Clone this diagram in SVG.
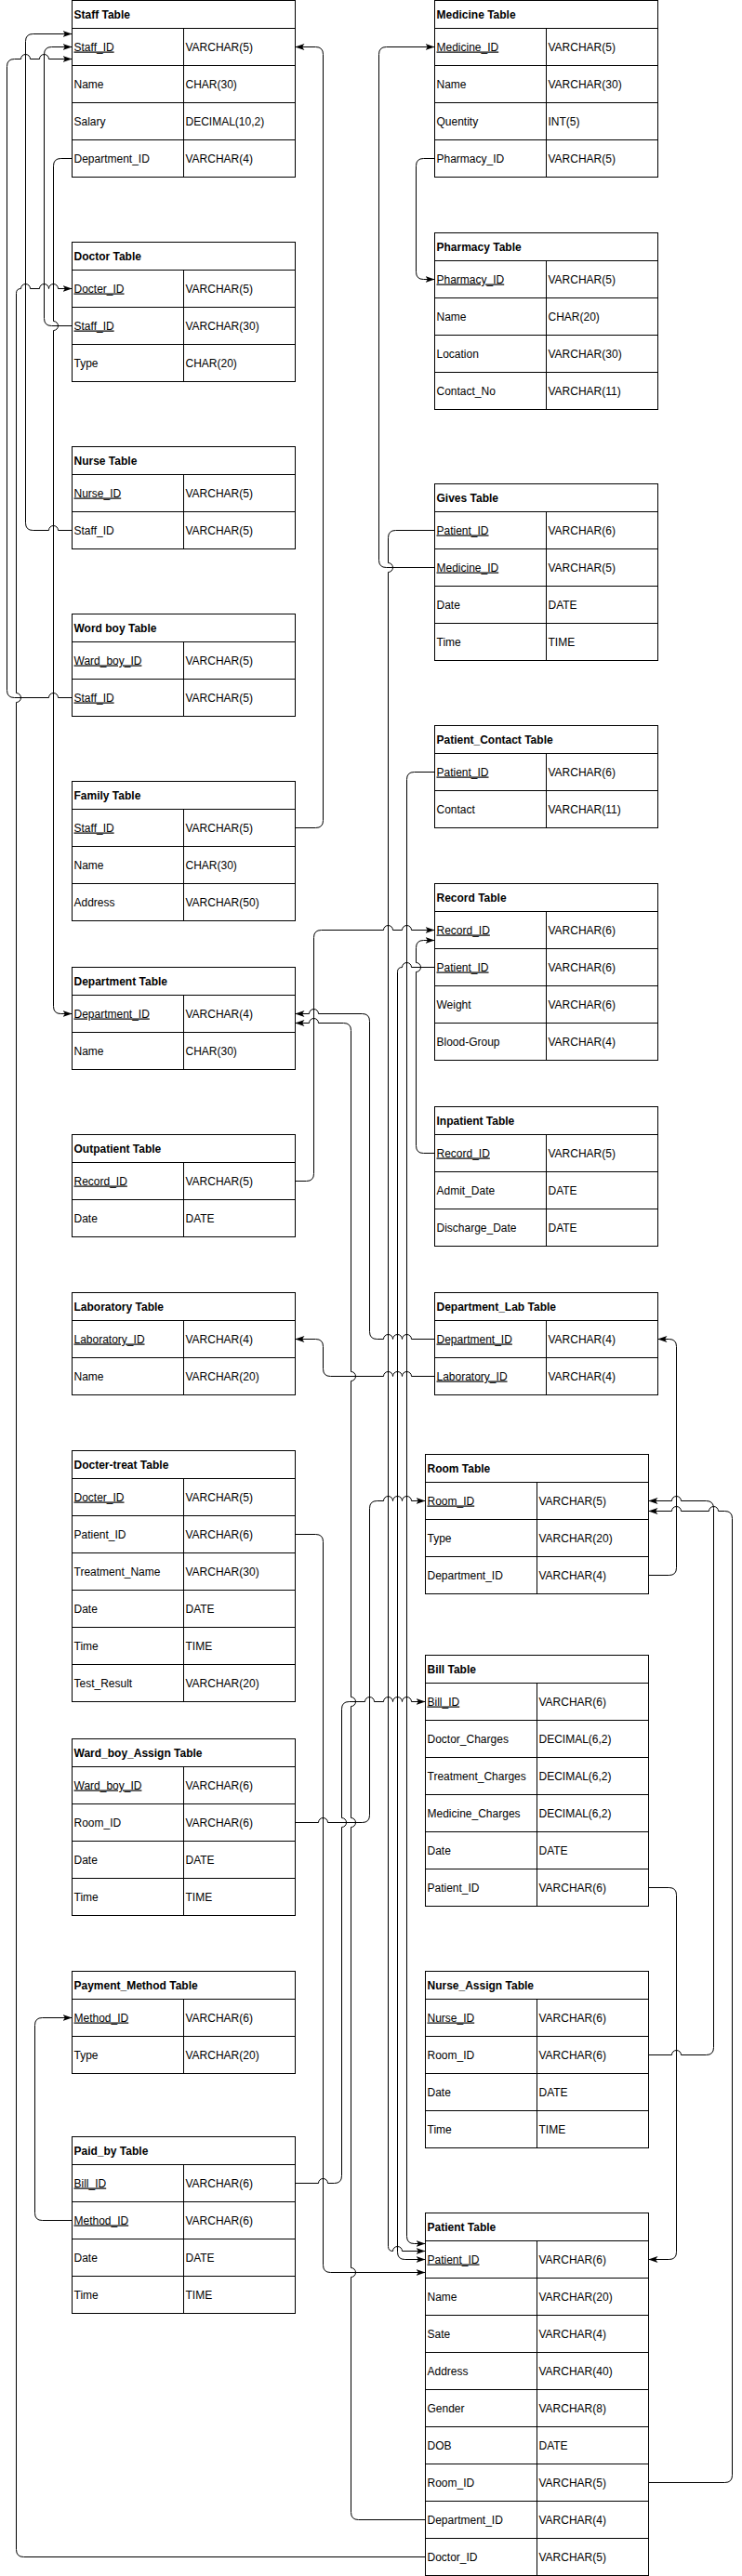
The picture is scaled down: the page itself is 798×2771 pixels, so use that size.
<svg xmlns="http://www.w3.org/2000/svg" width="798" height="2771" viewBox="0 0 798 2771">
<style>
text{font-family:"Liberation Sans",Arial,sans-serif;font-size:12px;fill:#000}
.h{font-weight:bold}
.k{text-decoration:underline}
.tbl rect{fill:#fff;stroke:#000;stroke-width:1}
.tbl path{fill:none;stroke:#000;stroke-width:1}
#connectors path{fill:none;stroke:#000;stroke-width:1;marker-end:url(#ar)}
</style>
<defs>
<marker id="ar" viewBox="0 0 10 8" refX="10" refY="4" markerWidth="10" markerHeight="8" markerUnits="userSpaceOnUse" orient="auto"><path d="M0,0.5 L10,4 L0,7.5 L2.5,4 Z" fill="#000"/></marker>
</defs>
<rect width="798" height="2771" fill="#fff"/>

<g id="staff-table" class="tbl" transform="translate(77.5,0.5)">
<rect width="240" height="190"/>
<path d="M0,30H240M0,70H240M0,110H240M0,150H240M120,30V190"/>
<text class="h" x="2" y="19">Staff Table</text>
<text class="k" x="2" y="54">Staff_ID</text><text x="122" y="54">VARCHAR(5)</text>
<text x="2" y="94">Name</text><text x="122" y="94">CHAR(30)</text>
<text x="2" y="134">Salary</text><text x="122" y="134">DECIMAL(10,2)</text>
<text x="2" y="174">Department_ID</text><text x="122" y="174">VARCHAR(4)</text>
</g>

<g id="doctor-table" class="tbl" transform="translate(77.5,260.5)">
<rect width="240" height="150"/>
<path d="M0,30H240M0,70H240M0,110H240M120,30V150"/>
<text class="h" x="2" y="19">Doctor Table</text>
<text class="k" x="2" y="54">Docter_ID</text><text x="122" y="54">VARCHAR(5)</text>
<text class="k" x="2" y="94">Staff_ID</text><text x="122" y="94">VARCHAR(30)</text>
<text x="2" y="134">Type</text><text x="122" y="134">CHAR(20)</text>
</g>

<g id="nurse-table" class="tbl" transform="translate(77.5,480.5)">
<rect width="240" height="110"/>
<path d="M0,30H240M0,70H240M120,30V110"/>
<text class="h" x="2" y="19">Nurse Table</text>
<text class="k" x="2" y="54">Nurse_ID</text><text x="122" y="54">VARCHAR(5)</text>
<text x="2" y="94">Staff_ID</text><text x="122" y="94">VARCHAR(5)</text>
</g>

<g id="wordboy-table" class="tbl" transform="translate(77.5,660.5)">
<rect width="240" height="110"/>
<path d="M0,30H240M0,70H240M120,30V110"/>
<text class="h" x="2" y="19">Word boy Table</text>
<text class="k" x="2" y="54">Ward_boy_ID</text><text x="122" y="54">VARCHAR(5)</text>
<text class="k" x="2" y="94">Staff_ID</text><text x="122" y="94">VARCHAR(5)</text>
</g>

<g id="family-table" class="tbl" transform="translate(77.5,840.5)">
<rect width="240" height="150"/>
<path d="M0,30H240M0,70H240M0,110H240M120,30V150"/>
<text class="h" x="2" y="19">Family Table</text>
<text class="k" x="2" y="54">Staff_ID</text><text x="122" y="54">VARCHAR(5)</text>
<text x="2" y="94">Name</text><text x="122" y="94">CHAR(30)</text>
<text x="2" y="134">Address</text><text x="122" y="134">VARCHAR(50)</text>
</g>

<g id="department-table" class="tbl" transform="translate(77.5,1040.5)">
<rect width="240" height="110"/>
<path d="M0,30H240M0,70H240M120,30V110"/>
<text class="h" x="2" y="19">Department Table</text>
<text class="k" x="2" y="54">Department_ID</text><text x="122" y="54">VARCHAR(4)</text>
<text x="2" y="94">Name</text><text x="122" y="94">CHAR(30)</text>
</g>

<g id="outpatient-table" class="tbl" transform="translate(77.5,1220.5)">
<rect width="240" height="110"/>
<path d="M0,30H240M0,70H240M120,30V110"/>
<text class="h" x="2" y="19">Outpatient Table</text>
<text class="k" x="2" y="54">Record_ID</text><text x="122" y="54">VARCHAR(5)</text>
<text x="2" y="94">Date</text><text x="122" y="94">DATE</text>
</g>

<g id="laboratory-table" class="tbl" transform="translate(77.5,1390.5)">
<rect width="240" height="110"/>
<path d="M0,30H240M0,70H240M120,30V110"/>
<text class="h" x="2" y="19">Laboratory Table</text>
<text class="k" x="2" y="54">Laboratory_ID</text><text x="122" y="54">VARCHAR(4)</text>
<text x="2" y="94">Name</text><text x="122" y="94">VARCHAR(20)</text>
</g>

<g id="doctertreat-table" class="tbl" transform="translate(77.5,1560.5)">
<rect width="240" height="270"/>
<path d="M0,30H240M0,70H240M0,110H240M0,150H240M0,190H240M0,230H240M120,30V270"/>
<text class="h" x="2" y="19">Docter-treat Table</text>
<text class="k" x="2" y="54">Docter_ID</text><text x="122" y="54">VARCHAR(5)</text>
<text x="2" y="94">Patient_ID</text><text x="122" y="94">VARCHAR(6)</text>
<text x="2" y="134">Treatment_Name</text><text x="122" y="134">VARCHAR(30)</text>
<text x="2" y="174">Date</text><text x="122" y="174">DATE</text>
<text x="2" y="214">Time</text><text x="122" y="214">TIME</text>
<text x="2" y="254">Test_Result</text><text x="122" y="254">VARCHAR(20)</text>
</g>

<g id="wardboyassign-table" class="tbl" transform="translate(77.5,1870.5)">
<rect width="240" height="190"/>
<path d="M0,30H240M0,70H240M0,110H240M0,150H240M120,30V190"/>
<text class="h" x="2" y="19">Ward_boy_Assign Table</text>
<text class="k" x="2" y="54">Ward_boy_ID</text><text x="122" y="54">VARCHAR(6)</text>
<text x="2" y="94">Room_ID</text><text x="122" y="94">VARCHAR(6)</text>
<text x="2" y="134">Date</text><text x="122" y="134">DATE</text>
<text x="2" y="174">Time</text><text x="122" y="174">TIME</text>
</g>

<g id="paymentmethod-table" class="tbl" transform="translate(77.5,2120.5)">
<rect width="240" height="110"/>
<path d="M0,30H240M0,70H240M120,30V110"/>
<text class="h" x="2" y="19">Payment_Method Table</text>
<text class="k" x="2" y="54">Method_ID</text><text x="122" y="54">VARCHAR(6)</text>
<text x="2" y="94">Type</text><text x="122" y="94">VARCHAR(20)</text>
</g>

<g id="paidby-table" class="tbl" transform="translate(77.5,2298.5)">
<rect width="240" height="190"/>
<path d="M0,30H240M0,70H240M0,110H240M0,150H240M120,30V190"/>
<text class="h" x="2" y="19">Paid_by Table</text>
<text class="k" x="2" y="54">Bill_ID</text><text x="122" y="54">VARCHAR(6)</text>
<text class="k" x="2" y="94">Method_ID</text><text x="122" y="94">VARCHAR(6)</text>
<text x="2" y="134">Date</text><text x="122" y="134">DATE</text>
<text x="2" y="174">Time</text><text x="122" y="174">TIME</text>
</g>

<g id="medicine-table" class="tbl" transform="translate(467.5,0.5)">
<rect width="240" height="190"/>
<path d="M0,30H240M0,70H240M0,110H240M0,150H240M120,30V190"/>
<text class="h" x="2" y="19">Medicine Table</text>
<text class="k" x="2" y="54">Medicine_ID</text><text x="122" y="54">VARCHAR(5)</text>
<text x="2" y="94">Name</text><text x="122" y="94">VARCHAR(30)</text>
<text x="2" y="134">Quentity</text><text x="122" y="134">INT(5)</text>
<text x="2" y="174">Pharmacy_ID</text><text x="122" y="174">VARCHAR(5)</text>
</g>

<g id="pharmacy-table" class="tbl" transform="translate(467.5,250.5)">
<rect width="240" height="190"/>
<path d="M0,30H240M0,70H240M0,110H240M0,150H240M120,30V190"/>
<text class="h" x="2" y="19">Pharmacy Table</text>
<text class="k" x="2" y="54">Pharmacy_ID</text><text x="122" y="54">VARCHAR(5)</text>
<text x="2" y="94">Name</text><text x="122" y="94">CHAR(20)</text>
<text x="2" y="134">Location</text><text x="122" y="134">VARCHAR(30)</text>
<text x="2" y="174">Contact_No</text><text x="122" y="174">VARCHAR(11)</text>
</g>

<g id="gives-table" class="tbl" transform="translate(467.5,520.5)">
<rect width="240" height="190"/>
<path d="M0,30H240M0,70H240M0,110H240M0,150H240M120,30V190"/>
<text class="h" x="2" y="19">Gives Table</text>
<text class="k" x="2" y="54">Patient_ID</text><text x="122" y="54">VARCHAR(6)</text>
<text class="k" x="2" y="94">Medicine_ID</text><text x="122" y="94">VARCHAR(5)</text>
<text x="2" y="134">Date</text><text x="122" y="134">DATE</text>
<text x="2" y="174">Time</text><text x="122" y="174">TIME</text>
</g>

<g id="patientcontact-table" class="tbl" transform="translate(467.5,780.5)">
<rect width="240" height="110"/>
<path d="M0,30H240M0,70H240M120,30V110"/>
<text class="h" x="2" y="19">Patient_Contact Table</text>
<text class="k" x="2" y="54">Patient_ID</text><text x="122" y="54">VARCHAR(6)</text>
<text x="2" y="94">Contact</text><text x="122" y="94">VARCHAR(11)</text>
</g>

<g id="record-table" class="tbl" transform="translate(467.5,950.5)">
<rect width="240" height="190"/>
<path d="M0,30H240M0,70H240M0,110H240M0,150H240M120,30V190"/>
<text class="h" x="2" y="19">Record Table</text>
<text class="k" x="2" y="54">Record_ID</text><text x="122" y="54">VARCHAR(6)</text>
<text class="k" x="2" y="94">Patient_ID</text><text x="122" y="94">VARCHAR(6)</text>
<text x="2" y="134">Weight</text><text x="122" y="134">VARCHAR(6)</text>
<text x="2" y="174">Blood-Group</text><text x="122" y="174">VARCHAR(4)</text>
</g>

<g id="inpatient-table" class="tbl" transform="translate(467.5,1190.5)">
<rect width="240" height="150"/>
<path d="M0,30H240M0,70H240M0,110H240M120,30V150"/>
<text class="h" x="2" y="19">Inpatient Table</text>
<text class="k" x="2" y="54">Record_ID</text><text x="122" y="54">VARCHAR(5)</text>
<text x="2" y="94">Admit_Date</text><text x="122" y="94">DATE</text>
<text x="2" y="134">Discharge_Date</text><text x="122" y="134">DATE</text>
</g>

<g id="deptlab-table" class="tbl" transform="translate(467.5,1390.5)">
<rect width="240" height="110"/>
<path d="M0,30H240M0,70H240M120,30V110"/>
<text class="h" x="2" y="19">Department_Lab Table</text>
<text class="k" x="2" y="54">Department_ID</text><text x="122" y="54">VARCHAR(4)</text>
<text class="k" x="2" y="94">Laboratory_ID</text><text x="122" y="94">VARCHAR(4)</text>
</g>

<g id="room-table" class="tbl" transform="translate(457.5,1564.5)">
<rect width="240" height="150"/>
<path d="M0,30H240M0,70H240M0,110H240M120,30V150"/>
<text class="h" x="2" y="19">Room Table</text>
<text class="k" x="2" y="54">Room_ID</text><text x="122" y="54">VARCHAR(5)</text>
<text x="2" y="94">Type</text><text x="122" y="94">VARCHAR(20)</text>
<text x="2" y="134">Department_ID</text><text x="122" y="134">VARCHAR(4)</text>
</g>

<g id="bill-table" class="tbl" transform="translate(457.5,1780.5)">
<rect width="240" height="270"/>
<path d="M0,30H240M0,70H240M0,110H240M0,150H240M0,190H240M0,230H240M120,30V270"/>
<text class="h" x="2" y="19">Bill Table</text>
<text class="k" x="2" y="54">Bill_ID</text><text x="122" y="54">VARCHAR(6)</text>
<text x="2" y="94">Doctor_Charges</text><text x="122" y="94">DECIMAL(6,2)</text>
<text x="2" y="134">Treatment_Charges</text><text x="122" y="134">DECIMAL(6,2)</text>
<text x="2" y="174">Medicine_Charges</text><text x="122" y="174">DECIMAL(6,2)</text>
<text x="2" y="214">Date</text><text x="122" y="214">DATE</text>
<text x="2" y="254">Patient_ID</text><text x="122" y="254">VARCHAR(6)</text>
</g>

<g id="nurseassign-table" class="tbl" transform="translate(457.5,2120.5)">
<rect width="240" height="190"/>
<path d="M0,30H240M0,70H240M0,110H240M0,150H240M120,30V190"/>
<text class="h" x="2" y="19">Nurse_Assign Table</text>
<text class="k" x="2" y="54">Nurse_ID</text><text x="122" y="54">VARCHAR(6)</text>
<text x="2" y="94">Room_ID</text><text x="122" y="94">VARCHAR(6)</text>
<text x="2" y="134">Date</text><text x="122" y="134">DATE</text>
<text x="2" y="174">Time</text><text x="122" y="174">TIME</text>
</g>

<g id="patient-table" class="tbl" transform="translate(457.5,2380.5)">
<rect width="240" height="390"/>
<path d="M0,30H240M0,70H240M0,110H240M0,150H240M0,190H240M0,230H240M0,270H240M0,310H240M0,350H240M120,30V390"/>
<text class="h" x="2" y="19">Patient Table</text>
<text class="k" x="2" y="54">Patient_ID</text><text x="122" y="54">VARCHAR(6)</text>
<text x="2" y="94">Name</text><text x="122" y="94">VARCHAR(20)</text>
<text x="2" y="134">Sate</text><text x="122" y="134">VARCHAR(4)</text>
<text x="2" y="174">Address</text><text x="122" y="174">VARCHAR(40)</text>
<text x="2" y="214">Gender</text><text x="122" y="214">VARCHAR(8)</text>
<text x="2" y="254">DOB</text><text x="122" y="254">DATE</text>
<text x="2" y="294">Room_ID</text><text x="122" y="294">VARCHAR(5)</text>
<text x="2" y="334">Department_ID</text><text x="122" y="334">VARCHAR(4)</text>
<text x="2" y="374">Doctor_ID</text><text x="122" y="374">VARCHAR(5)</text>
</g>

<g id="connectors">
<path d="M77.5,570.5 H62.5 A5,5 0 0 0 52.5,570.5 H35.5 Q27.5,570.5 27.5,562.5 V44.5 Q27.5,36.5 35.5,36.5 H77.5"/>
<path d="M77.5,350.5 H55.5 Q47.5,350.5 47.5,342.5 V58.5 Q47.5,50.5 55.5,50.5 H77.5"/>
<path d="M77.5,750.5 H62.5 A5,5 0 0 0 52.5,750.5 H15.5 Q7.5,750.5 7.5,742.5 V71.5 Q7.5,63.5 15.5,63.5 H22.5 A5,5 0 0 1 32.5,63.5 H42.5 A5,5 0 0 1 52.5,63.5 H77.5"/>
<path d="M457.5,2750.5 H25.5 Q17.5,2750.5 17.5,2742.5 V755.5 A5,5 0 0 0 17.5,745.5 V315.5 Q17.5,310.5 22.5,310.5 A5,5 0 0 1 32.5,310.5 H42.5 A5,5 0 0 1 52.5,310.5 A5,5 0 0 1 62.5,310.5 H77.5"/>
<path d="M77.5,170.5 H65.5 Q57.5,170.5 57.5,178.5 V345.5 A5,5 0 0 1 57.5,355.5 V1082.5 Q57.5,1090.5 65.5,1090.5 H77.5"/>
<path d="M317.5,890.5 H339.5 Q347.5,890.5 347.5,882.5 V58.5 Q347.5,50.5 339.5,50.5 H317.5"/>
<path d="M467.5,610.5 H415.5 Q407.5,610.5 407.5,602.5 V58.5 Q407.5,50.5 415.5,50.5 H467.5"/>
<path d="M467.5,170.5 H455.5 Q447.5,170.5 447.5,178.5 V292.5 Q447.5,300.5 455.5,300.5 H467.5"/>
<path d="M467.5,570.5 H425.5 Q417.5,570.5 417.5,578.5 V605.5 A5,5 0 0 1 417.5,615.5 V2416.5 Q417.5,2421.5 422.5,2421.5 A5,5 0 0 1 432.5,2421.5 H457.5"/>
<path d="M467.5,830.5 H445.5 Q437.5,830.5 437.5,838.5 V2405.5 Q437.5,2413.5 445.5,2413.5 H457.5"/>
<path d="M467.5,1040.5 H442.5 A5,5 0 0 0 432.5,1040.5 Q427.5,1040.5 427.5,1045.5 V2422.5 Q427.5,2430.5 435.5,2430.5 H457.5"/>
<path d="M317.5,1270.5 H329.5 Q337.5,1270.5 337.5,1262.5 V1008.5 Q337.5,1000.5 345.5,1000.5 H412.5 A5,5 0 0 1 422.5,1000.5 H432.5 A5,5 0 0 1 442.5,1000.5 H467.5"/>
<path d="M467.5,1240.5 H455.5 Q447.5,1240.5 447.5,1232.5 V1045.5 A5,5 0 0 0 447.5,1035.5 V1019.5 Q447.5,1011.5 455.5,1011.5 H467.5"/>
<path d="M467.5,1440.5 H442.5 A5,5 0 0 0 432.5,1440.5 A5,5 0 0 0 422.5,1440.5 A5,5 0 0 0 412.5,1440.5 H405.5 Q397.5,1440.5 397.5,1432.5 V1098.5 Q397.5,1090.5 389.5,1090.5 H342.5 A5,5 0 0 0 332.5,1090.5 H317.5"/>
<path d="M457.5,2710.5 H385.5 Q377.5,2710.5 377.5,2702.5 V2449.5 A5,5 0 0 0 377.5,2439.5 V1965.5 A5,5 0 0 0 377.5,1955.5 V1835.5 A5,5 0 0 0 377.5,1825.5 V1485.5 A5,5 0 0 0 377.5,1475.5 V1108.5 Q377.5,1100.5 369.5,1100.5 H342.5 A5,5 0 0 0 332.5,1100.5 H317.5"/>
<path d="M467.5,1480.5 H442.5 A5,5 0 0 0 432.5,1480.5 A5,5 0 0 0 422.5,1480.5 A5,5 0 0 0 412.5,1480.5 H355.5 Q347.5,1480.5 347.5,1472.5 V1448.5 Q347.5,1440.5 339.5,1440.5 H317.5"/>
<path d="M317.5,1960.5 H342.5 A5,5 0 0 1 352.5,1960.5 H389.5 Q397.5,1960.5 397.5,1952.5 V1622.5 Q397.5,1614.5 405.5,1614.5 H412.5 A5,5 0 0 1 422.5,1614.5 A5,5 0 0 1 432.5,1614.5 A5,5 0 0 1 442.5,1614.5 H457.5"/>
<path d="M317.5,2348.5 H342.5 A5,5 0 0 1 352.5,2348.5 H359.5 Q367.5,2348.5 367.5,2340.5 V1965.5 A5,5 0 0 0 367.5,1955.5 V1838.5 Q367.5,1830.5 375.5,1830.5 H392.5 A5,5 0 0 1 402.5,1830.5 H412.5 A5,5 0 0 1 422.5,1830.5 A5,5 0 0 1 432.5,1830.5 A5,5 0 0 1 442.5,1830.5 H457.5"/>
<path d="M317.5,1650.5 H339.5 Q347.5,1650.5 347.5,1658.5 V2436.5 Q347.5,2444.5 355.5,2444.5 H457.5"/>
<path d="M77.5,2388.5 H45.5 Q37.5,2388.5 37.5,2380.5 V2178.5 Q37.5,2170.5 45.5,2170.5 H77.5"/>
<path d="M697.5,1694.5 H719.5 Q727.5,1694.5 727.5,1686.5 V1448.5 Q727.5,1440.5 719.5,1440.5 H707.5"/>
<path d="M697.5,2210.5 H722.5 A5,5 0 0 1 732.5,2210.5 H759.5 Q767.5,2210.5 767.5,2202.5 V1622.5 Q767.5,1614.5 759.5,1614.5 H732.5 A5,5 0 0 0 722.5,1614.5 H697.5"/>
<path d="M697.5,2670.5 H779.5 Q787.5,2670.5 787.5,2662.5 V1633.5 Q787.5,1625.5 779.5,1625.5 H772.5 A5,5 0 0 0 762.5,1625.5 H732.5 A5,5 0 0 0 722.5,1625.5 H697.5"/>
<path d="M697.5,2030.5 H719.5 Q727.5,2030.5 727.5,2038.5 V2422.5 Q727.5,2430.5 719.5,2430.5 H697.5"/>
</g>
</svg>
